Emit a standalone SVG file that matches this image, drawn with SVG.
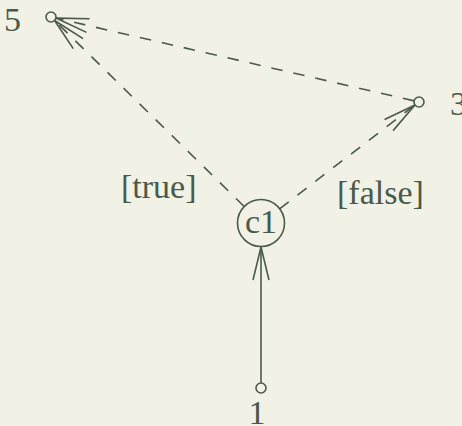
<svg xmlns="http://www.w3.org/2000/svg" width="462" height="426" viewBox="0 0 462 426">
<style>
.bg{fill:#f1f1e6}
.n{fill:none;stroke:#4a5a4a;stroke-width:1.6}
.e{fill:none;stroke:#4a5a4a;stroke-width:1.6}
.d{stroke-dasharray:11.5 11}
.t{font-family:"Liberation Serif","Times New Roman",serif;font-size:34px;fill:#4a5a4a}
</style>
<defs>
<marker id="ah" markerUnits="userSpaceOnUse" viewBox="-36 -10 38 20" markerWidth="38" markerHeight="20" refX="0" refY="0" orient="auto" overflow="visible">
<path d="M-33,-7 L0,0 L-33,7" fill="none" stroke="#4a5a4a" stroke-width="1.6"/>
</marker>
<marker id="ahs" markerUnits="userSpaceOnUse" viewBox="-36 -10 38 20" markerWidth="38" markerHeight="20" refX="0" refY="0" orient="auto" overflow="visible">
<path d="M-33,-8 L0,0 L-33,8" fill="none" stroke="#4a5a4a" stroke-width="1.6"/>
</marker>
</defs>
<rect class="bg" x="0" y="0" width="462" height="426"/>
<g id="connectors">
<line class="e" x1="261" y1="383" x2="261" y2="247" marker-end="url(#ahs)"/>
<line class="e d" x1="244.2" y1="206.5" x2="54.6" y2="20.5" marker-end="url(#ah)"/>
<line class="e d" x1="279.6" y1="208.8" x2="415" y2="105" marker-end="url(#ah)"/>
<line class="e d" x1="414.1" y1="100.9" x2="55.9" y2="18.1" marker-end="url(#ah)"/>
</g>
<g id="node-c1">
<circle class="n" cx="261" cy="223" r="23.5"/>
<text class="t" x="261" y="233" text-anchor="middle">c1</text>
</g>
<g id="node-5">
<circle class="n" cx="51" cy="17" r="5"/>
<text class="t" x="4" y="31">5</text>
</g>
<g id="node-3">
<circle class="n" cx="419" cy="102" r="5"/>
<text class="t" x="450" y="115">3</text>
</g>
<g id="node-1">
<circle class="n" cx="261" cy="388" r="5"/>
<text class="t" x="257" y="424" text-anchor="middle">1</text>
</g>
<g id="labels">
<text class="t" x="121" y="198">[true]</text>
<text class="t" x="337" y="204">[false]</text>
</g>
</svg>
